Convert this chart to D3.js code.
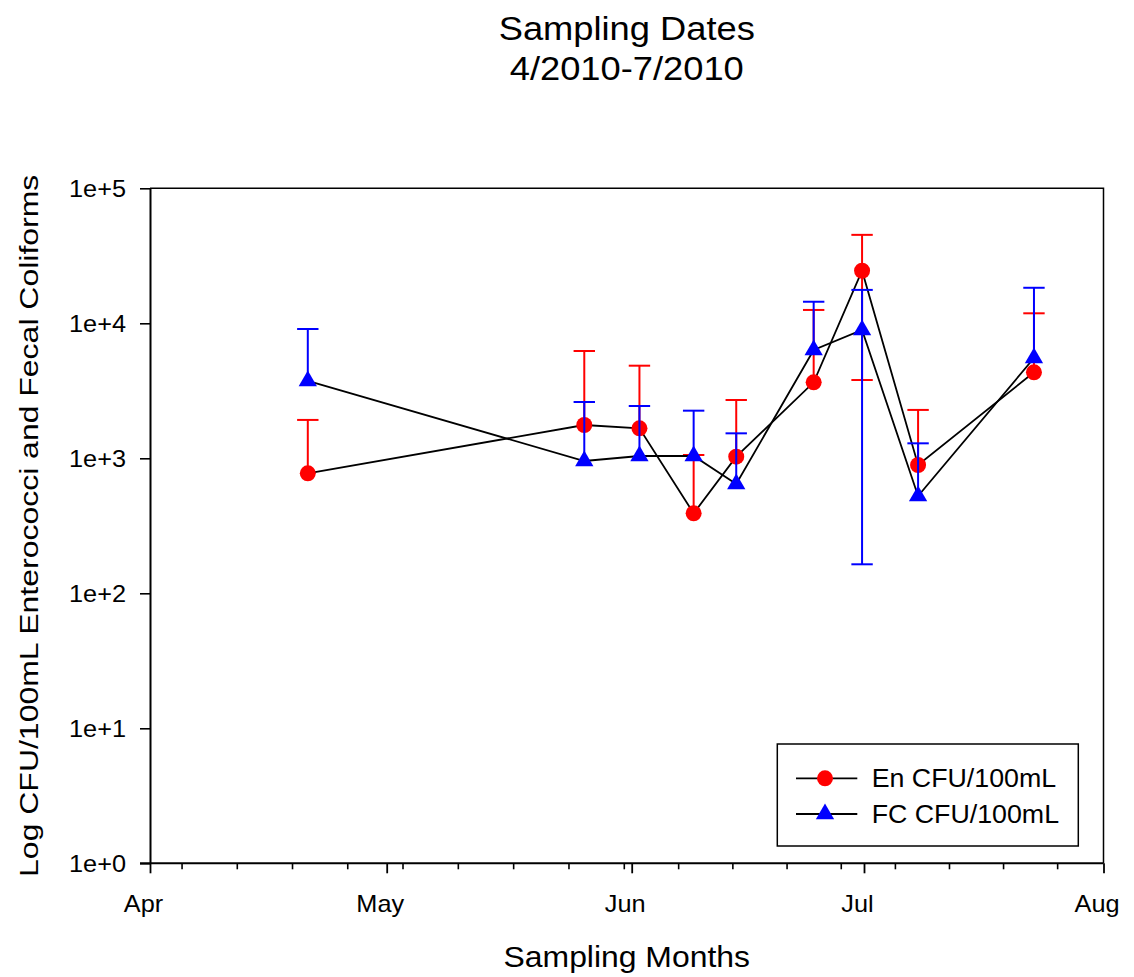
<!DOCTYPE html>
<html><head><meta charset="utf-8">
<script src="https://cdn.jsdelivr.net/npm/d3@7"></script>
<style>
body{margin:0;background:#fff}
text{font-family:"Liberation Sans",Arial,Helvetica,sans-serif;fill:#000}
</style>
</head><body>
<svg id="c" width="1134" height="977"></svg>
<script>
// ---- data ----
const sampleDates = ["2010-04-21T00:00","2010-05-26T00:00","2010-06-02T00:00","2010-06-09T00:00","2010-06-14T12:00","2010-06-24T12:00","2010-06-30T18:00","2010-07-08T00:00","2010-07-23T00:00"];
const enValues = [774, 1765, 1668, 391, 1028, 3656, 24500, 892, 4335];
const enErrors = [1150, 4470, 3185, 667, 1676, 8900, 20700, 1390, 7525];
const fcValues = [3740, 955, 1040, 1040, 645, 6345, 8920, 526, 5530];
const fcErrors = [5330, 1657, 1400, 1213, 886, 8100, 8756, 765, 12800];
const monthTicks = ["2010-04-01","2010-05-01","2010-06-01","2010-07-01","2010-08-01"];
const monthLabels = ["Apr","May","Jun","Jul","Aug"];
const yTicks = [1, 10, 100, 1000, 10000, 100000];
const yTickLabels = ["1e+0","1e+1","1e+2","1e+3","1e+4","1e+5"];
const seriesNames = ["En CFU/100mL", "FC CFU/100mL"];
const titleLines = ["Sampling Dates", "4/2010-7/2010"];
const xTitle = "Sampling Months";
const yTitle = "Log CFU/100mL Enterococci and Fecal Coliforms";

// ---- setup ----
const svg = d3.select("#c");
const pt = d3.utcParse("%Y-%m-%dT%H:%M");
const pd = d3.utcParse("%Y-%m-%d");
const months = monthTicks.map(pd);
const dates = sampleDates.map(pt);

const L = 150, R = 1103.5, T = 188.3, B = 863.3;
const x = d3.scaleUtc().domain(months).range([L, 386.7, 631.7, 864, R]);
const y = d3.scaleLog().domain([1, 1e5]).range([B, T]);

// frame (top and right)
svg.append("path")
  .attr("d", `M${L},${T}H${R}V${B}`)
  .attr("fill", "none").attr("stroke", "#000").attr("stroke-width", 1.5);

// y axis
const gy = svg.append("g").attr("transform", `translate(${L},0)`)
  .call(d3.axisLeft(y).tickValues(yTicks).tickFormat((d,i) => yTickLabels[i]).tickSize(10).tickSizeOuter(0));
gy.select(".domain").attr("stroke-width", 2);
gy.selectAll(".tick line").attr("stroke-width", 1.6);
gy.selectAll(".tick text")
  .attr("font-size", 23).attr("font-family", null)
  .attr("x", -24 / 1.1).attr("dy", "0.35em")
  .attr("transform", "scale(1.1,1)");

// x axis minor (weekly, Mondays)
const minor = d3.utcMonday.range(months[0], months[months.length-1])
  .filter(d => !months.some(m => +m === +d));
const gxm = svg.append("g").attr("transform", `translate(0,${B})`)
  .call(d3.axisBottom(x).tickValues(minor).tickFormat("").tickSize(6).tickSizeOuter(0));
gxm.select(".domain").remove();
gxm.selectAll(".tick line").attr("stroke-width", 1.6);

// x axis major
const gx = svg.append("g").attr("transform", `translate(0,${B})`)
  .call(d3.axisBottom(x).tickValues(months).tickFormat((d,i) => monthLabels[i]).tickSize(10).tickSizeOuter(0));
gx.select(".domain").attr("stroke-width", 2).attr("d", `M${L-10},0H${R}`);
gx.selectAll(".tick line").attr("stroke-width", 1.8);
gx.selectAll(".tick text")
  .attr("font-size", 23).attr("font-family", null)
  .attr("y", 48.4).attr("dy", 0).attr("x", -7 / 1.1)
  .attr("transform", "scale(1.1,1)");

// series
const series = [
  {name: seriesNames[0], vals: enValues, errs: enErrors, color: "#ff0000", shape: "circle"},
  {name: seriesNames[1], vals: fcValues, errs: fcErrors, color: "#0000ff", shape: "triangle"}
];
const tri = d3.symbol().type(d3.symbolTriangle).size(145);
const capW = 10.7;

series.forEach(s => {
  const pts = dates.map((d,i) => ({d, v: s.vals[i], e: s.errs[i]}));
  const g = svg.append("g");
  g.append("path").datum(pts)
    .attr("d", d3.line().x(p => x(p.d)).y(p => y(p.v)))
    .attr("fill", "none").attr("stroke", "#000").attr("stroke-width", 1.8);
  const eb = g.selectAll(".eb").data(pts).join("g").attr("stroke", s.color).attr("stroke-width", 2);
  eb.append("line")
    .attr("x1", p => x(p.d)).attr("x2", p => x(p.d))
    .attr("y1", p => y(p.v + p.e))
    .attr("y2", p => p.v - p.e > 0 ? y(p.v - p.e) : y(p.v));
  eb.append("line")
    .attr("x1", p => x(p.d) - capW).attr("x2", p => x(p.d) + capW)
    .attr("y1", p => y(p.v + p.e)).attr("y2", p => y(p.v + p.e));
  eb.filter(p => p.v - p.e > 0).append("line")
    .attr("x1", p => x(p.d) - capW).attr("x2", p => x(p.d) + capW)
    .attr("y1", p => y(p.v - p.e)).attr("y2", p => y(p.v - p.e));
  if (s.shape === "circle") {
    g.selectAll(".m").data(pts).join("circle")
      .attr("cx", p => x(p.d)).attr("cy", p => y(p.v)).attr("r", 8).attr("fill", s.color);
  } else {
    g.selectAll(".m").data(pts).join("path")
      .attr("d", tri).attr("transform", p => `translate(${x(p.d)},${y(p.v)})`).attr("fill", s.color);
  }
});

// legend
const lg = svg.append("g");
lg.append("rect").attr("x", 777.3).attr("y", 744).attr("width", 301).attr("height", 102)
  .attr("fill", "#fff").attr("stroke", "#000").attr("stroke-width", 1.5);
const rowsY = [778.3, 814];
series.forEach((s, i) => {
  const ry = rowsY[i];
  lg.append("line").attr("x1", 796).attr("x2", 857.3).attr("y1", ry).attr("y2", ry)
    .attr("stroke", "#000").attr("stroke-width", 1.8);
  if (s.shape === "circle") lg.append("circle").attr("cx", 825).attr("cy", ry).attr("r", 8).attr("fill", s.color);
  else lg.append("path").attr("d", tri).attr("transform", `translate(825,${ry})`).attr("fill", s.color);
  lg.append("text").attr("transform", `translate(871.7,${ry}) scale(1.05,1)`)
    .attr("dy", "0.36em").attr("font-size", 25.5).text(s.name);
});

// titles
svg.append("text").attr("transform", `translate(${(L+R)/2},40) scale(1.1,1)`)
  .attr("text-anchor", "middle").attr("font-size", 33).text(titleLines[0]);
svg.append("text").attr("transform", `translate(${(L+R)/2},80) scale(1.1,1)`)
  .attr("text-anchor", "middle").attr("font-size", 33).text(titleLines[1]);
svg.append("text").attr("transform", `translate(${(L+R)/2},967.3) scale(1.1,1)`)
  .attr("text-anchor", "middle").attr("font-size", 29).text(xTitle);
svg.append("text").attr("transform", `translate(38.3,${(T+B)/2}) rotate(-90) scale(1.23,1)`)
  .attr("text-anchor", "middle").attr("font-size", 26).text(yTitle);
</script>
</body></html>
